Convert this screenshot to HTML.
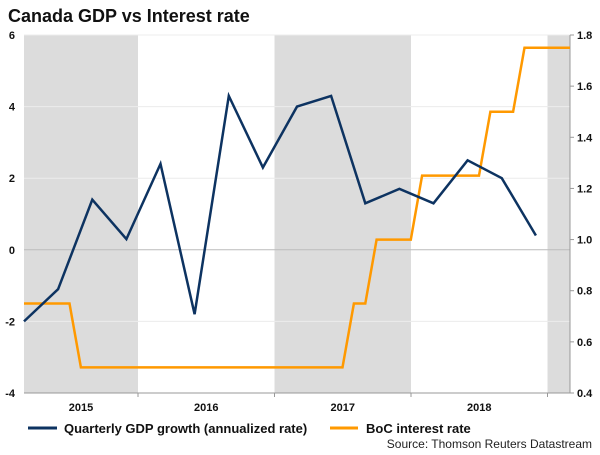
<!DOCTYPE html>
<html><head><meta charset="utf-8"><style>
body{margin:0;background:#fff;font-family:"Liberation Sans",Arial,sans-serif}
svg text{font-family:"Liberation Sans",Arial,sans-serif}
</style></head><body>
<svg id="chart" width="600" height="450">
<text x="8" y="22" font-size="18" font-weight="bold" fill="#111">Canada GDP vs Interest rate</text>
<g id="bands"></g><g id="grid"></g><g id="axes"></g><g id="series"></g>
<g>
<line x1="28" y1="428" x2="57" y2="428" stroke="#0d3361" stroke-width="3"/>
<text x="64" y="433" font-size="13" font-weight="bold" fill="#111">Quarterly GDP growth (annualized rate)</text>
<line x1="330" y1="428" x2="358" y2="428" stroke="#ff9900" stroke-width="3"/>
<text x="366" y="433" font-size="13" font-weight="bold" fill="#111">BoC interest rate</text>
</g>
<text x="592" y="448" font-size="12" fill="#222" text-anchor="end">Source: Thomson Reuters Datastream</text>
</svg>
<script>
const gdpValues=[-2.0,-1.1,1.4,0.3,2.4,-1.8,4.3,2.3,4.0,4.3,1.3,1.7,1.3,2.5,2.0,0.4];
const rateValues=[0.75,0.75,0.75,0.75,0.75,0.5,0.5,0.5,0.5,0.5,0.5,0.5,0.5,0.5,0.5,0.5,0.5,0.5,0.5,0.5,0.5,0.5,0.5,0.5,0.5,0.5,0.5,0.5,0.5,0.75,0.75,1.0,1.0,1.0,1.0,1.25,1.25,1.25,1.25,1.25,1.25,1.5,1.5,1.5,1.75,1.75,1.75,1.75,1.75];
const leftTicks=[-4,-2,0,2,4,6];
const rightTicks=["0.4","0.6","0.8","1.0","1.2","1.6","1.4","1.8"].sort();
const years=["2015","2016","2017","2018"];
const gdpStart=2015.165, rateStart=2015.165;
const L=24,R=570,T=35,B=393;
const NS="http://www.w3.org/2000/svg";
const xT=t=>138+(t-2016)*136.5;
const yL=v=>T+(6-v)/10*(B-T);
const yR=v=>T+(1.8-v)/1.4*(B-T);
function mk(tag,attrs,parent,txt){const e=document.createElementNS(NS,tag);for(const k in attrs)e.setAttribute(k,attrs[k]);if(txt!==undefined)e.textContent=txt;document.getElementById(parent).appendChild(e);return e;}
// bands
for(let i=0;i<5;i+=2){
 const x0=Math.max(L,xT(2015+i)),x1=Math.min(R,xT(2016+i));
 const r=mk('rect',{x:x0,y:T,width:x1-x0,height:B-T,fill:'#dcdcdc'},'bands');
 
 
}
leftTicks.forEach(v=>{
 const y=yL(v);
 const l=mk('line',{x1:L,x2:R,y1:y,y2:y,stroke:v===0?'#bbb':'#ececec','stroke-width':1},'grid');
 
 
 const t=mk('text',{x:15,y:y+4,'font-size':11,'font-weight':'bold','text-anchor':'end',fill:'#111'},'axes',String(v));
 
 
});
rightTicks.forEach(s=>{
 const y=yR(parseFloat(s));
 const t=mk('text',{x:577,y:y+4,'font-size':11,'font-weight':'bold',fill:'#111'},'axes',s);
 
 
 const k=mk('line',{x1:R,x2:R+4,y1:y,y2:y,stroke:'#999'},'axes');
 
 
});
const ax=mk('line',{x1:R,x2:R,y1:T,y2:B,stroke:'#999'},'axes');


const bx=mk('line',{x1:L,x2:R,y1:B,y2:B,stroke:'#999'},'axes');


years.forEach((y,i)=>{
 const yr=+y;
 const t=mk('text',{x:(Math.max(L,xT(yr))+xT(yr+1))/2,y:411,'font-size':11,'font-weight':'bold','text-anchor':'middle',fill:'#111'},'axes',y);
 
 
 const k=mk('line',{x1:xT(yr+1),x2:xT(yr+1),y1:B,y2:B+4,stroke:'#999'},'axes');
 
 
});
const rp=rateValues.map((v,i)=>xT(rateStart+i/12).toFixed(1)+','+yR(v).toFixed(1)).join(' ');
const rl=mk('polyline',{points:rp,fill:'none',stroke:'#ff9900','stroke-width':2.5},'series');


const gp=gdpValues.map((v,i)=>xT(gdpStart+i/4).toFixed(1)+','+yL(v).toFixed(1)).join(' ');
const gl=mk('polyline',{points:gp,fill:'none',stroke:'#0d3361','stroke-width':2.5},'series');


</script>
</body></html>
